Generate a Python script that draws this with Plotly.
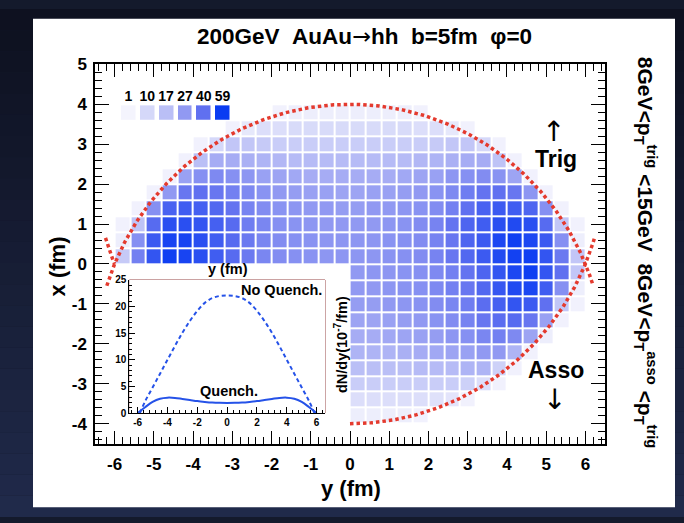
import numpy as np
import plotly.graph_objects as go

W, H = 684, 523
FONT = "Liberation Sans, Arial, Helvetica, sans-serif"


def px(x):
    return x / W


def py(y):
    return 1 - y / H


# ---------------- density map of hadron production points ----------------
# bin centres (fm): transverse y along the horizontal, x along the vertical
Y_BINS = [-5.8, -5.4, -5.0, -4.6, -4.2, -3.8, -3.4, -3.0, -2.6, -2.2,
          -1.8, -1.4, -1.0, -0.6, -0.2, 0.2, 0.6, 1.0, 1.4, 1.8,
          2.2, 2.6, 3.0, 3.4, 3.8, 4.2, 4.6, 5.0, 5.4, 5.8]
X_BINS = [-3.8, -3.4, -3.0, -2.6, -2.2, -1.8, -1.4, -1.0, -0.6, -0.2,
          0.2, 0.6, 1.0, 1.4, 1.8, 2.2, 2.6, 3.0, 3.4, 3.8]

# trigger side (x > 0): row centre, first filled column, counts
TRIG_ROWS_X = [3.8, 3.4, 3.0, 2.6, 2.2, 1.8, 1.4, 1.0, 0.6, 0.2]
TRIG_ROWS_START = [10, 7, 5, 4, 3, 2, 1, 0, 0, 0]
TRIG_ROWS = [
    [2, 3, 3, 3, 3, 3, 3, 3, 3, 2],
    [2, 5, 8, 8, 9, 9, 9, 9, 9, 9, 9, 9, 8, 8, 5, 2],
    [2, 10, 15, 15, 14, 13, 13, 13, 13, 13, 13, 13, 13, 13, 13, 14, 15, 15, 10, 2],
    [2, 17, 22, 22, 21, 20, 19, 18, 18, 18, 18, 18, 18, 18, 18, 19, 20, 21, 22, 22, 16, 2],
    [2, 25, 30, 32, 30, 28, 25, 24, 23, 22, 22, 22, 22, 22, 22, 23, 24, 25, 28, 30, 31, 29, 24, 2],
    [2, 27, 38, 40, 38, 35, 32, 29, 27, 26, 25, 25, 24, 24, 25, 25, 26, 27, 29, 32, 36, 39, 40, 38, 28, 2],
    [2, 30, 45, 47, 46, 43, 39, 34, 31, 29, 28, 27, 27, 26, 26, 27, 27, 28, 29, 31, 35, 40, 45, 48, 47, 44, 30, 2],
    [2, 16, 42, 52, 52, 50, 46, 42, 36, 33, 30, 29, 28, 27, 27, 27, 27, 28, 29, 31, 34, 39, 44, 47, 52, 54, 52, 42, 15, 2],
    [3, 30, 48, 56, 56, 52, 47, 42, 37, 33, 31, 30, 29, 28, 28, 28, 28, 29, 30, 31, 34, 38, 44, 48, 55, 58, 55, 48, 30, 3],
    [14, 35, 50, 58, 56, 52, 47, 42, 37, 33, 31, 30, 29, 28, 28, 28, 28, 29, 30, 31, 34, 38, 43, 48, 54, 57, 58, 50, 37, 15],
]

# associated side (x < 0), only y > 0 shown
ASSO_ROWS_X = [-0.2, -0.6, -1.0, -1.4, -1.8, -2.2, -2.6, -3.0, -3.4, -3.8]
ASSO_ROWS_START = [15, 15, 15, 15, 15, 15, 15, 15, 15, 15]
ASSO_ROWS = [
    [27, 28, 28, 29, 30, 32, 35, 39, 44, 50, 55, 58, 50, 40, 15],
    [27, 27, 28, 29, 30, 32, 35, 38, 43, 49, 54, 55, 47, 30, 3],
    [26, 26, 27, 28, 29, 31, 33, 36, 41, 46, 50, 48, 40, 15, 2],
    [24, 24, 25, 26, 27, 29, 31, 34, 38, 41, 42, 38, 25, 2],
    [22, 22, 23, 24, 25, 26, 28, 30, 33, 35, 32, 24, 3],
    [20, 20, 20, 21, 22, 23, 24, 25, 27, 27, 20, 2],
    [17, 17, 17, 17, 18, 18, 18, 20, 20, 12, 2],
    [13, 13, 13, 13, 13, 13, 13, 12, 8, 2],
    [8, 8, 8, 8, 8, 7, 6, 2],
    [3, 3, 3, 3, 2],
]

# colour key
LEVELS = [1, 10, 17, 27, 40, 59]
LEVEL_COLORS = ["#f4f4fd", "#d5d8f9", "#babff6", "#9199f2", "#6070f0", "#0a3cf2"]

# inset: dN/dy profiles
NOQ_Y = [-5.85, -5.5, -5.0, -4.5, -4.0, -3.5, -3.0, -2.5, -2.0, -1.5, -1.0, -0.5, 0.0,
         0.5, 1.0, 1.5, 2.0, 2.5, 3.0, 3.5, 4.0, 4.5, 5.0, 5.5, 5.85]
NOQ_DNDY = [0.0, 2.2, 4.8, 7.4, 10.0, 12.6, 15.1, 17.3, 19.2, 20.7, 21.6, 22.0, 22.1,
            22.0, 21.6, 20.7, 19.2, 17.3, 15.1, 12.6, 10.0, 7.4, 4.8, 2.2, 0.0]
Q_Y = [-6.0, -5.5, -5.0, -4.5, -4.0, -3.5, -3.0, -2.5, -2.0, -1.5, -1.0, -0.5, 0.0,
       0.5, 1.0, 1.5, 2.0, 2.5, 3.0, 3.5, 4.0, 4.5, 5.0, 5.5, 6.0]
Q_DNDY = [0.0, 1.1, 2.1, 2.7, 2.9, 2.85, 2.65, 2.45, 2.25, 2.1, 1.98, 1.92, 1.9,
          1.92, 1.98, 2.1, 2.25, 2.45, 2.65, 2.85, 2.9, 2.7, 2.1, 1.1, 0.0]

X_TICKS = [-6, -5, -4, -3, -2, -1, 0, 1, 2, 3, 4, 5, 6]
Y_TICKS = [-4, -3, -2, -1, 0, 1, 2, 3, 4, 5]
INSET_X_TICKS = [-6, -4, -2, 0, 2, 4, 6]
INSET_Y_TICKS = [0, 5, 10, 15, 20, 25]

# nuclear geometry
R_AU = 6.5   # fm
B_FM = 5.0   # impact parameter, fm

# ---------------- build the grid ----------------
grid = [[None] * len(Y_BINS) for _ in X_BINS]
for xs, starts, rows in ((TRIG_ROWS_X, TRIG_ROWS_START, TRIG_ROWS),
                         (ASSO_ROWS_X, ASSO_ROWS_START, ASSO_ROWS)):
    for xr, s, vals in zip(xs, starts, rows):
        r = X_BINS.index(xr)
        for k, v in enumerate(vals):
            grid[r][s + k] = v

zlo, zhi = LEVELS[0], LEVELS[-1]
cscale = [[(v - zlo) / (zhi - zlo), c] for v, c in zip(LEVELS, LEVEL_COLORS)]

fig = go.Figure()

fig.add_trace(go.Heatmap(
    x=Y_BINS, y=X_BINS, z=grid, colorscale=cscale, zmin=zlo, zmax=zhi,
    xgap=2, ygap=2, showscale=False, hoverongaps=False,
    xaxis="x", yaxis="y"))

# nucleus outlines
RED = "#e43a2e"
DOTS = dict(color=RED, width=3.5, dash="3.5px,3px")
h = B_FM / 2
# upper nucleus centred at x = -b/2
t_up = np.radians(np.linspace(-72.5, 72.5, 300))
fig.add_trace(go.Scatter(
    x=R_AU * np.sin(t_up), y=-h + R_AU * np.cos(t_up), mode="lines",
    line=DOTS, showlegend=False, xaxis="x", yaxis="y"))
# lower nucleus centred at x = +b/2 (right half and the small left stub)
t_lo = np.radians(np.linspace(0, 73.5, 200))
fig.add_trace(go.Scatter(
    x=R_AU * np.sin(t_lo), y=h - R_AU * np.cos(t_lo), mode="lines",
    line=DOTS, showlegend=False, xaxis="x", yaxis="y"))
t_lo2 = np.radians(np.linspace(-73.5, -67.4, 30))
fig.add_trace(go.Scatter(
    x=R_AU * np.sin(t_lo2), y=h - R_AU * np.cos(t_lo2), mode="lines",
    line=DOTS, showlegend=False, xaxis="x", yaxis="y"))

# colour key boxes
fig.add_trace(go.Heatmap(
    x=[str(v) for v in LEVELS], y=[0], z=[LEVELS], colorscale=cscale,
    zmin=zlo, zmax=zhi, xgap=4.5, showscale=False, xaxis="x3", yaxis="y3"))

# inset curves
BLUE = "#2552e8"
fig.add_trace(go.Scatter(
    x=NOQ_Y, y=NOQ_DNDY, mode="lines",
    line=dict(color=BLUE, width=2, dash="4px,3px", shape="spline"),
    showlegend=False, xaxis="x2", yaxis="y2"))
fig.add_trace(go.Scatter(
    x=Q_Y, y=Q_DNDY, mode="lines", line=dict(color=BLUE, width=2, shape="spline"),
    showlegend=False, xaxis="x2", yaxis="y2"))

bold = dict(family=FONT, color="black", weight="bold")

main_axis = dict(
    showline=True, linecolor="black", linewidth=1.5, mirror="allticks",
    ticks="inside", ticklen=13, tickwidth=1.2, tickcolor="black",
    tickmode="array", showgrid=False, zeroline=False,
    tickfont=dict(size=17, **bold),
    minor=dict(tickmode="linear", tick0=0, dtick=0.2, ticks="inside",
               ticklen=7, tickwidth=1, tickcolor="black", showgrid=False),
)

fig.update_layout(
    width=W, height=H, autosize=False,
    margin=dict(l=0, r=0, t=0, b=0, pad=0),
    paper_bgcolor="#141a2c", plot_bgcolor="white",
    showlegend=False,
    xaxis=dict(main_axis, domain=[px(95), px(605)], range=[-6.5, 6.5],
               tickvals=X_TICKS, ticktext=[str(v) for v in X_TICKS],
               anchor="y", ticklabelstandoff=4),
    yaxis=dict(main_axis, domain=[py(447.5), py(57)], range=[-4.5, 5.0],
               tickvals=Y_TICKS, ticktext=[str(v) for v in Y_TICKS],
               anchor="x", ticklen=14, ticklabelstandoff=3),
    xaxis2=dict(domain=[px(129.3), px(325)], range=[-6.56, 6.56], anchor="y2",
                showline=True, linecolor="black", linewidth=1, mirror=False,
                ticks="inside", ticklen=6, tickcolor="black", showgrid=False, zeroline=False,
                tickmode="array", tickvals=INSET_X_TICKS,
                ticktext=[str(v) for v in INSET_X_TICKS],
                tickfont=dict(size=10, **bold),
                minor=dict(tickmode="linear", tick0=0, dtick=0.4, ticks="inside",
                           ticklen=3, tickcolor="black")),
    yaxis2=dict(domain=[py(416), py(279)], range=[0, 25], anchor="x2",
                showline=True, linecolor="black", linewidth=1, mirror=False,
                ticks="inside", ticklen=6, tickcolor="black", showgrid=False, zeroline=False,
                tickmode="array", tickvals=INSET_Y_TICKS,
                ticktext=[str(v) for v in INSET_Y_TICKS],
                tickfont=dict(size=10, **bold),
                minor=dict(tickmode="linear", tick0=0, dtick=1, ticks="inside",
                           ticklen=3, tickcolor="black")),
    xaxis3=dict(domain=[px(119), px(232)], anchor="y3", side="top", type="category",
                showline=False, ticks="", showgrid=False, zeroline=False,
                tickfont=dict(size=14, **bold), ticklabelstandoff=0),
    yaxis3=dict(domain=[py(114), py(99)], anchor="x3", visible=False),
)

# dark slide backdrop with a soft vertical gradient, then the white page
shapes = []
top_rgb = np.array([14, 17, 32])
bot_rgb = np.array([32, 42, 74])
n_bands = 24
for i in range(n_bands):
    c = top_rgb + (bot_rgb - top_rgb) * (i / (n_bands - 1))
    shapes.append(dict(type="rect", xref="paper", yref="paper", x0=0, x1=1,
                       y0=1 - (i + 1) / n_bands, y1=1 - i / n_bands,
                       fillcolor="rgb(%d,%d,%d)" % tuple(c.astype(int)),
                       line_width=0, layer="below"))
shapes.append(dict(type="rect", xref="paper", yref="paper", x0=px(33), x1=px(675),
                   y0=py(513), y1=py(10), fillcolor="white", line_width=0, layer="below"))
# inset frame
shapes.append(dict(type="rect", xref="x2 domain", yref="y2 domain", x0=0, x1=1, y0=0, y1=1,
                   line=dict(color="#9a4a4a", width=1), layer="below"))
fig.update_layout(shapes=shapes)

NB = "\u00a0"
ARROW_SPAN = '<span style="font-family:DejaVu Sans;font-weight:normal">%s</span>'


def note(text, x, y, size, angle=0, weight="bold", family=FONT):
    fig.add_annotation(text=text, x=px(x), y=py(y), xref="paper", yref="paper",
                       xanchor="center", yanchor="middle", showarrow=False,
                       textangle=angle,
                       font=dict(family=family, size=size, color="black", weight=weight))


note(f"200GeV{NB}{NB}AuAu" + ARROW_SPAN % "\u2192" + f"hh{NB}{NB}b=5fm{NB}{NB}\u03c6=0",
     365, 28, 22.5)
note("x (fm)", 57, 265, 22, angle=-90)
note("y (fm)", 351, 494, 22)
note(f"8GeV&lt;p<sub>T</sub><sup>trig</sup>{NB}&lt;15GeV{NB}{NB}8GeV&lt;p<sub>T</sub><sup>asso</sup>{NB}&lt;p<sub>T</sub><sup>trig</sup>",
     645, 250, 21, angle=90)
note("\u2191", 553, 126, 28, weight="normal", family="DejaVu Sans")
note("Trig", 556, 154, 23)
note("Asso", 556, 372, 23)
note("\u2193", 554, 402, 28, weight="normal", family="DejaVu Sans")
note("y (fm)", 228, 268, 14.5)
note("No Quench.", 281, 289, 14.5)
note("Quench.", 229, 393, 14.5)
note("dN/dy(10<sup>-7</sup>/fm)", 341, 346, 14.5, angle=-90)

fig.write_html("out.html")
